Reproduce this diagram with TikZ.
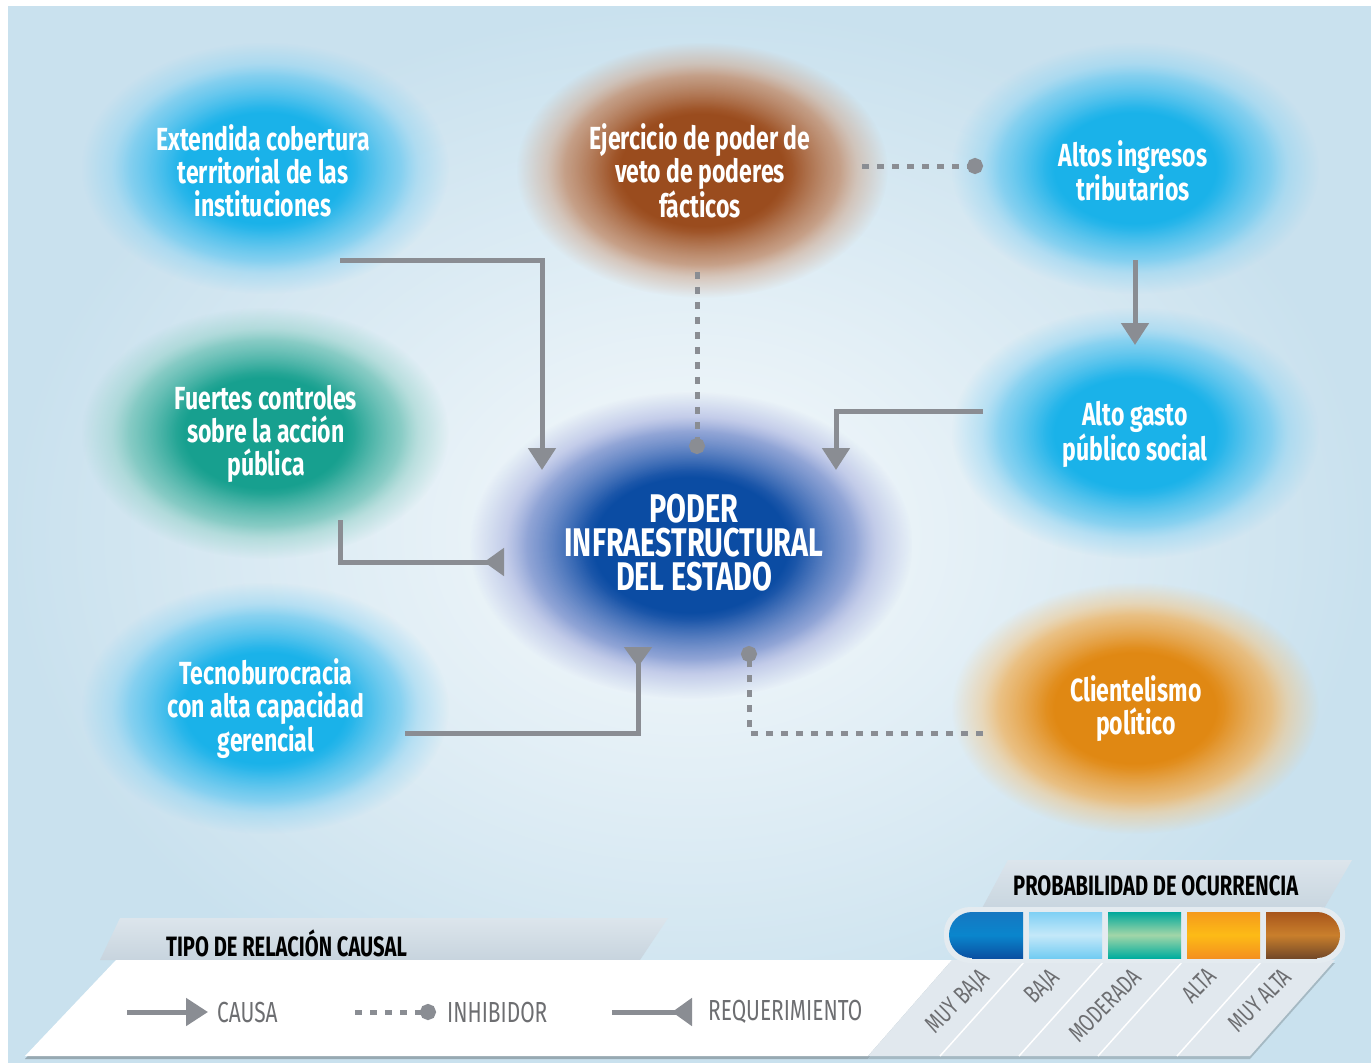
\documentclass[tikz,border=0pt]{standalone}
\usepackage{fontspec}
\setmainfont{Fira Sans}[FakeStretch=0.72]
\usetikzlibrary{arrows.meta,calc,fadings}

\definecolor{bgblue}{HTML}{C9E1EE}
\definecolor{bgcenter}{HTML}{F7FAFC}
\definecolor{conn}{HTML}{8A8D93}
\definecolor{lgray}{HTML}{6D6E71}
\definecolor{lbcore}{HTML}{1AB2E9}
\definecolor{lbedge}{HTML}{8ED3F2}
\definecolor{tlcore}{HTML}{17A08F}
\definecolor{tledge}{HTML}{8FCFC6}
\definecolor{brcore}{HTML}{9A4C1E}
\definecolor{bredge}{HTML}{CDA083}
\definecolor{orcore}{HTML}{E08813}
\definecolor{oredge}{HTML}{F2C27E}
\definecolor{bucore}{HTML}{0B4CA3}
\definecolor{buedge}{HTML}{9AA4DA}
\definecolor{tabtop}{HTML}{DCE5EC}
\definecolor{tabbot}{HTML}{C7D4DE}
\definecolor{lband}{HTML}{E1E8EE}
\definecolor{halo}{HTML}{E4EBF0}
\definecolor{mbA}{HTML}{1577C1}\definecolor{mbB}{HTML}{0A86CD}\definecolor{mbC}{HTML}{0A50A2}
\definecolor{bjA}{HTML}{7FD0F4}\definecolor{bjB}{HTML}{C4E8F9}\definecolor{bjC}{HTML}{72CCF2}
\definecolor{mdA}{HTML}{00A89B}\definecolor{mdB}{HTML}{A2D6A8}\definecolor{mdC}{HTML}{00AD9E}
\definecolor{alA}{HTML}{F59A1C}\definecolor{alB}{HTML}{FDBB16}\definecolor{alC}{HTML}{F4901F}
\definecolor{maA}{HTML}{A8561C}\definecolor{maB}{HTML}{C97F2C}\definecolor{maC}{HTML}{744928}

\pgfdeclareradialshading{softedgeshade}{\pgfpointorigin}{color(0pt)=(pgftransparent!0); color(12pt)=(pgftransparent!0); color(18.5pt)=(pgftransparent!22); color(25pt)=(pgftransparent!100); color(50pt)=(pgftransparent!100)}
\pgfdeclarefading{softedgefade}{\pgfuseshading{softedgeshade}}

\newcommand\mkballshade[3]{%
  \pgfdeclareradialshading[#2,#3]{#1}{\pgfpointorigin}{color(0pt)=(#2); color(11pt)=(#2); color(21pt)=(#3); color(50pt)=(#3)}}
\mkballshade{lbshade}{lbcore}{lbedge}
\mkballshade{tlshade}{tlcore}{tledge}
\mkballshade{brshade}{brcore}{bredge}
\mkballshade{orshade}{orcore}{oredge}
\mkballshade{bushade}{bucore}{buedge}

\tikzset{
  ell/.style={shading=#1, path fading=softedgefade},
  ntext/.style={text=white, align=center, font=\bfseries\fontsize{32}{33}\selectfont},
  ctext/.style={text=white, align=center, font=\bfseries\fontsize{40}{34}\selectfont},
  causa/.style={draw=conn, line width=5pt, -{Triangle[length=22pt,width=27pt]}},
  req/.style={draw=conn, line width=5pt, -{Triangle[reversed,length=20pt,width=27pt]}},
  inhib/.style={draw=conn, line width=5pt, dash pattern=on 7pt off 8pt, -{Circle[length=16pt]}},
  legtext/.style={text=lgray, anchor=west, inner sep=0pt, font=\fontsize{29}{30}\selectfont},
  legtitle/.style={text=black, anchor=west, inner sep=0pt, font=\bfseries\fontsize{28}{30}\selectfont},
  plabel/.style={text=lgray, inner sep=0pt, rotate=45, font=\fontsize{25}{27}\selectfont},
  seg/.style n args={3}{top color=#1, bottom color=#3, middle color=#2},
}

\begin{document}
\begin{tikzpicture}[x=1pt,y=-1pt]
\useasboundingbox (0,0) rectangle (1371,1063);
\fill[white] (0,0) rectangle (1371,1063);
\shade[inner color=bgcenter, outer color=bgblue] (8,6) rectangle (1371,1063);

% ellipses
\shade[ell=lbshade] (265,168) ellipse [x radius=184, y radius=126];
\shade[ell=brshade] (702,170) ellipse [x radius=186, y radius=128];
\shade[ell=lbshade] (1135,168) ellipse [x radius=184, y radius=126];
\shade[ell=tlshade] (265,433) ellipse [x radius=184, y radius=126];
\shade[ell=lbshade] (1135,433) ellipse [x radius=184, y radius=126];
\shade[ell=bushade] (691,545) ellipse [x radius=222, y radius=154];
\shade[ell=lbshade] (265,708) ellipse [x radius=184, y radius=126];
\shade[ell=orshade] (1135,708) ellipse [x radius=184, y radius=126];

% texts
\node[ntext] (ext) at (263,171) {Extendida cobertura\\territorial de las\\instituciones};
\node[ntext] (eje) at (700,171) {Ejercicio de poder de\\veto de poderes\\fácticos};
\node[ntext] (ing) at (1133,171) {Altos ingresos\\tributarios};
\node[ntext] (fue) at (266,434) {Fuertes controles\\sobre la acción\\pública};
\node[ntext] (gas) at (1135,434) {Alto gasto\\público social};
\node[ctext] (pod) at (694,543) {PODER\\INFRAESTRUCTURAL\\DEL ESTADO};
\node[ntext] (tec) at (266,709) {Tecnoburocracia\\con alta capacidad\\gerencial};
\node[ntext] (cli) at (1136,709) {Clientelismo\\político};

% connectors
\draw[causa] ($(ext)+(77,89)$) -| ($(pod)+(-152,-73)$);
\draw[req] ($(fue)+(74,86)$) |- ($(pod)+(-190,19)$);
\draw[req] ($(tec)+(139,24)$) -| ($(pod)+(-56,104)$);
\draw[causa] ($(gas)+(-152,-23)$) -| ($(pod)+(142,-73)$);
\draw[causa] ($(ing)+(2,89)$) -- ($(gas)+(0,-89)$);
\draw[inhib] ($(eje)+(-3,101)$) -- ($(pod)+(3,-89)$);
\draw[inhib] ($(eje)+(162,-5)$) -- ($(ing)+(-150,-5)$);
\draw[inhib] ($(cli)+(-153,24)$) -| ($(pod)+(55,103)$);

% legend: causal types
\shade[top color=tabtop, bottom color=tabbot] (100,960) -- (120,918) -- (668,918) -- (640,960) -- cycle;
\fill[black!25!bgblue] (25,1059) -- (116,963) -- (952,963) -- (868,1059) -- cycle;
\fill[white] (25,1056) -- (116,960) -- (952,960) -- (868,1056) -- cycle;
\node[legtitle] (tt) at (166,943) {TIPO DE RELACIÓN CAUSAL};

\node[legtext] (lcau) at (217,1012) {CAUSA};
\node[legtext] (linh) at (447,1012) {INHIBIDOR};
\node[legtext] (lreq) at (708,1012) {REQUERIMIENTO};
\draw[causa] ($(lcau.west)+(-90,0)$) -- ($(lcau.west)+(-9,0)$);
\draw[inhib] ($(linh.west)+(-92,0)$) -- ($(linh.west)+(-11,0)$);
\draw[req] ($(lreq.west)+(-96,0)$) -- ($(lreq.west)+(-16,0)$);

% legend: probability
\fill[black!18!bgblue] (868,1059) -- (952,963) -- (1335,963) -- (1250,1059) -- cycle;
\fill[lband] (868,1056) -- (952,960) -- (1335,960) -- (1250,1056) -- cycle;
\foreach \xx in {1026,1105,1184,1263}
  \draw[white, line width=1.5pt] (\xx,960) -- (\xx-86,1056);
\shade[top color=tabtop, bottom color=tabbot] (980,912) -- (1008,860) -- (1352,860) -- (1322,912) -- cycle;
\node[legtitle] (pt) at (1013,886) {PROBABILIDAD DE OCURRENCIA};
\fill[halo, rounded corners=26pt] (944,907) rectangle (1345,963);

\shade[seg={mbA}{mbB}{mbC}] (972,935) circle [radius=23];
\shade[seg={mbA}{mbB}{mbC}] (972,912) rectangle (1023,958);
\shade[seg={bjA}{bjB}{bjC}] (1029,912) rectangle (1102,958);
\shade[seg={mdA}{mdB}{mdC}] (1108,912) rectangle (1181,958);
\shade[seg={alA}{alB}{alC}] (1187,912) rectangle (1260,958);
\shade[seg={maA}{maB}{maC}] (1266,912) rectangle (1317,958);
\shade[seg={maA}{maB}{maC}] (1317,935) circle [radius=23];

\node[plabel] (p1) at (958,1002) {MUY BAJA};
\node[plabel] (p2) at (1043,987) {BAJA};
\node[plabel] (p3) at (1105,1005) {MODERADA};
\node[plabel] (p4) at (1199,985) {ALTA};
\node[plabel] (p5) at (1260,1000) {MUY ALTA};
\end{tikzpicture}
\end{document}
